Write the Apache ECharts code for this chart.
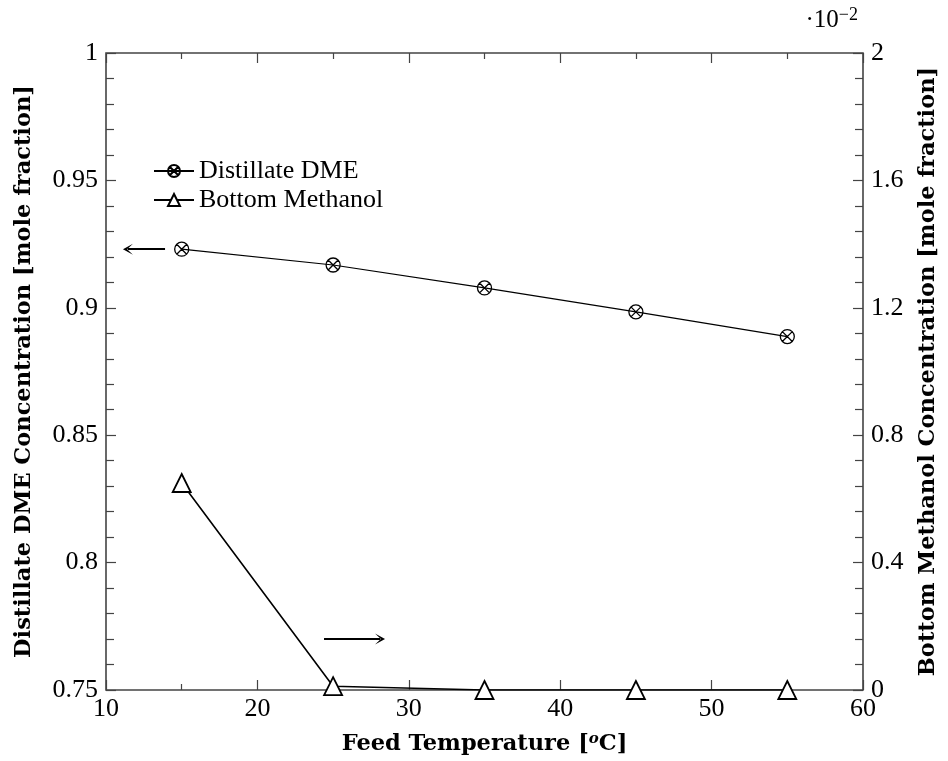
<!DOCTYPE html>
<html><head><meta charset="utf-8">
<script src="https://cdn.jsdelivr.net/npm/echarts@6/dist/echarts.min.js"></script>
<style>html,body{margin:0;padding:0;background:#fff}#c{width:948px;height:761px}</style>
</head><body><div id="c"></div>
<script>
const temps = [15, 25, 35, 45, 55];
const dmeValues = [0.923, 0.9168, 0.9078, 0.8984, 0.8887];
const methanolValues = [0.65, 0.012, 0.0, 0.0, 0.0];
const leftArrow = [[13.9, 0.923], [11.45, 0.923]];
const rightArrow = [[24.4, 0.77], [28.1, 0.77]];

const FONT = 'Liberation Serif';
const TFONT = 'DejaVu Serif';
const crossCircle = 'path://M0,10A10,10 0 1,1 20,10A10,10 0 1,1 0,10Z M2.9,2.9L17.1,17.1 M17.1,2.9L2.9,17.1';
const arrowHead = 'path://M0,12L6,0L12,12L6,5Z';

const chart = echarts.init(document.getElementById('c'));
const axisLabel = {color: '#000', fontFamily: FONT, fontSize: 26};
const nameStyle = {color: '#000', fontFamily: TFONT, fontSize: 22.5, fontWeight: 'bold'};
const tickStyle = {color: '#444', width: 1.2};
chart.setOption({
  backgroundColor: '#fff',
  animation: false,
  grid: {left: 106, right: 83, top: 53, bottom: 68, show: true, borderColor: '#444', borderWidth: 1.6},
  legend: {
    orient: 'vertical', left: 148, top: 153, itemGap: 3, itemWidth: 40, itemHeight: 15,
    textStyle: {color: '#000', fontFamily: FONT, fontSize: 26},
    data: ['Distillate DME', 'Bottom Methanol']
  },
  graphic: [{
    type: 'text', right: 90, top: 6,
    style: {text: '·10{s|−2}', rich: {s: {fontSize: 18, verticalAlign: 'top', padding: [0,0,10,0], fontFamily: FONT}}, fontFamily: FONT, fontSize: 25, fill: '#000'}
  }],
  xAxis: [{
    type: 'value', min: 10, max: 60, interval: 10, position: 'bottom',
    axisLine: {show: false}, splitLine: {show: false},
    axisTick: {inside: true, length: 10, lineStyle: tickStyle},
    minorTick: {show: true, splitNumber: 2, length: 6, lineStyle: tickStyle},
    axisLabel: Object.assign({margin: 6}, axisLabel),
    name: 'Feed Temperature [{s|o}C]', nameLocation: 'middle', nameGap: 42,
    nameTextStyle: Object.assign({rich: {s: {fontSize: 15, fontFamily: TFONT, fontStyle: 'italic', verticalAlign: 'top', padding: [0,0,10,0]}}}, nameStyle)
  }, {
    type: 'value', min: 10, max: 60, interval: 10, position: 'top',
    axisLine: {show: false}, splitLine: {show: false}, axisLabel: {show: false},
    axisTick: {inside: true, length: 10, lineStyle: tickStyle},
    minorTick: {show: true, splitNumber: 2, length: 6, lineStyle: tickStyle}
  }],
  yAxis: [{
    type: 'value', min: 0.75, max: 1, interval: 0.05, position: 'left',
    axisLine: {show: false}, splitLine: {show: false},
    axisTick: {inside: true, length: 10, lineStyle: tickStyle},
    minorTick: {show: true, splitNumber: 5, length: 8, lineStyle: tickStyle},
    axisLabel: Object.assign({margin: 8, formatter: v => String(+v.toFixed(2))}, axisLabel),
    name: 'Distillate DME Concentration [mole fraction]', nameLocation: 'middle', nameGap: 70, nameTextStyle: nameStyle
  }, {
    type: 'value', min: 0, max: 2, interval: 0.4, position: 'right',
    axisLine: {show: false}, splitLine: {show: false},
    axisTick: {inside: true, length: 10, lineStyle: tickStyle},
    minorTick: {show: true, splitNumber: 5, length: 8, lineStyle: tickStyle},
    axisLabel: Object.assign({margin: 8, formatter: v => String(+v.toFixed(1))}, axisLabel),
    name: 'Bottom Methanol Concentration [mole fraction]', nameLocation: 'middle', nameGap: 54, nameTextStyle: nameStyle
  }],
  series: [{
    name: 'Distillate DME', type: 'line', xAxisIndex: 0, yAxisIndex: 0,
    data: temps.map((t, i) => [t, dmeValues[i]]),
    symbol: crossCircle, symbolSize: 14, showAllSymbol: true,
    lineStyle: {color: '#000', width: 1.2},
    itemStyle: {color: 'rgba(255,255,255,0)', borderColor: '#000', borderWidth: 1.3},
    markLine: {
      silent: true, symbol: ['none', arrowHead], symbolSize: [11, 10],
      lineStyle: {color: '#000', width: 1.8, type: 'solid'}, label: {show: false},
      data: [
        [{coord: leftArrow[0]}, {coord: leftArrow[1]}],
        [{coord: rightArrow[0]}, {coord: rightArrow[1]}]
      ]
    }
  }, {
    name: 'Bottom Methanol', type: 'line', xAxisIndex: 0, yAxisIndex: 1,
    data: temps.map((t, i) => [t, methanolValues[i]]),
    symbol: 'triangle', symbolSize: 18, showAllSymbol: true,
    lineStyle: {color: '#000', width: 1.6},
    itemStyle: {color: '#fff', borderColor: '#000', borderWidth: 1.8}
  }]
});
</script></body></html>
